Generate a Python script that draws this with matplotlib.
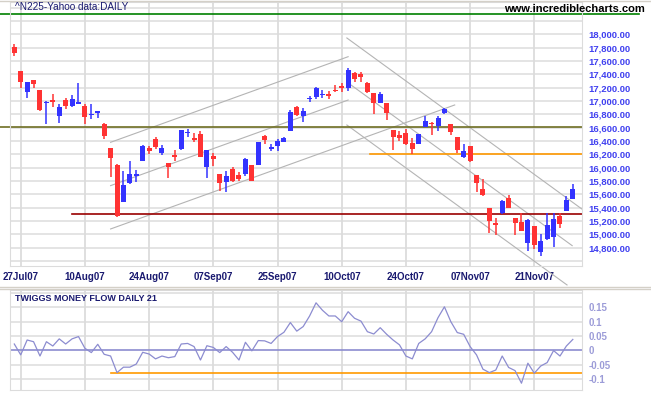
import matplotlib
matplotlib.use('Agg')
import matplotlib.pyplot as plt
import matplotlib.ticker as mticker
from matplotlib.lines import Line2D
import numpy as np

plt.rcParams['font.family'] = ['Liberation Sans', 'DejaVu Sans']

# 日K线数据，第0个交易日 = 27Jul07（第一根是前一天）
first_day = -1
opens = [17815, 17450, 17140, 17315, 17165, 16965, 17015, 16780, 17015, 16925,
         16960, 16925, 16790, 16825, 16655, 16300, 16040, 15490, 15765, 15880,
         16105, 16300, 16430, 16225, 16065, 16190, 16275, 16515, 16445, 16505,
         16015, 16175, 15905, 15790, 15980, 15890, 15905, 16040, 16040, 16475,
         16280, 16325, 16390, 16555, 16910, 16775, 17030, 17065, 17085, 17100,
         17165, 17230, 17200, 17415, 17405, 17275, 17120, 16975, 16970, 16565,
         16490, 16515, 16375, 16355, 16615, 16675, 16625, 16825, 16655, 16455,
         16165, 16325, 15890, 15680, 15390, 15165, 15315, 15550, 15240, 15185,
         14875, 15125, 14740, 14930, 14965, 15280, 15355, 15530]
highs = [17855, 17455, 17285, 17320, 17165, 17000, 17105, 16955, 17045, 17090,
         17275, 16955, 16955, 16850, 16675, 16300, 16050, 15950, 16100, 15965,
         16340, 16325, 16465, 16340, 16065, 16265, 16565, 16580, 16515, 16550,
         16265, 16215, 15905, 15950, 16005, 15940, 16150, 16040, 16385, 16490,
         16350, 16425, 16465, 16865, 16930, 16890, 17075, 17215, 17165, 17150,
         17240, 17265, 17495, 17430, 17430, 17285, 17120, 17130, 16970, 16565,
         16550, 16580, 16440, 16505, 16775, 16690, 16775, 16900, 16655, 16455,
         16355, 16325, 15890, 15830, 15400, 15240, 15515, 15590, 15240, 15315,
         15225, 15125, 15005, 15315, 15325, 15315, 15575, 15755]
lows = [17680, 17200, 17050, 17200, 16850, 16655, 16915, 16675, 16875, 16910,
        16960, 16660, 16725, 16750, 16430, 15865, 15265, 15490, 15755, 15790,
        16105, 16200, 16275, 16190, 15840, 16105, 16265, 16465, 16390, 16155,
        15850, 16025, 15655, 15630, 15790, 15805, 15880, 15800, 16040, 16350,
        16250, 16255, 16390, 16555, 16770, 16690, 16990, 17025, 17040, 17030,
        17140, 17140, 17150, 17290, 17290, 17115, 16800, 16965, 16715, 16265,
        16400, 16340, 16205, 16355, 16615, 16490, 16555, 16805, 16490, 16225,
        16150, 16090, 15640, 15575, 15015, 14990, 15300, 15400, 14990, 15055,
        14755, 14775, 14675, 14915, 14815, 15100, 15355, 15530]
closes = [17715, 17290, 17285, 17260, 16865, 16990, 16990, 16905, 16930, 17025,
          16968, 16765, 16805, 16850, 16475, 16150, 15280, 15740, 15905, 15905,
          16325, 16255, 16315, 16300, 16015, 16165, 16565, 16525, 16415, 16165,
          16265, 16135, 15775, 15875, 15805, 15830, 16130, 15805, 16385, 16415,
          16305, 16400, 16440, 16830, 16795, 16855, 17040, 17195, 17100, 17080,
          17150, 17190, 17465, 17335, 17365, 17140, 16965, 17105, 16825, 16455,
          16450, 16355, 16280, 16505, 16700, 16655, 16740, 16875, 16530, 16265,
          16255, 16100, 15775, 15590, 15205, 15140, 15505, 15400, 15165, 15055,
          15215, 14840, 14905, 15140, 15225, 15155, 15515, 15680]

# Twiggs Money Flow 21日
tmf = [0.022, -0.016, 0.036, 0.030, -0.020, 0.030, 0.015, 0.040, 0.022, 0.040,
       0.048, 0.007, -0.008, 0.021, -0.014, -0.020, -0.078, -0.059, -0.059, -0.048,
       -0.007, -0.013, -0.030, -0.020, -0.026, -0.022, 0.022, 0.024, 0.013, -0.034,
       0.016, 0.010, -0.008, 0.013, -0.007, -0.034, 0.028, -0.002, 0.034, 0.033,
       0.024, 0.048, 0.063, 0.097, 0.067, 0.083, 0.120, 0.166, 0.140, 0.120,
       0.120, 0.100, 0.135, 0.112, 0.102, 0.065, 0.057, 0.079, 0.056, 0.036,
       0.019, -0.020, -0.030, 0.024, 0.040, 0.065, 0.114, 0.152, 0.100, 0.062,
       0.056, 0.013, -0.016, -0.066, -0.078, -0.069, -0.020, -0.060, -0.071, -0.115,
       -0.045, -0.080, -0.055, -0.043, -0.001, -0.020, 0.015, 0.038]

tick_days = [0, 10, 20, 30, 40, 50, 60, 70, 80]
tick_labels = ['27Jul07', '10Aug07', '24Aug07', '07Sep07', '25Sep07',
               '10Oct07', '24Oct07', '07Nov07', '21Nov07']
price_grid = np.arange(14600, 18401, 200)
tmf_ticks = [0.15, 0.1, 0.05, 0, -0.05, -0.1]
tmf_tick_labels = ['0.15', '0.1', '0.05', '0', '-0.05', '-0.1']

# 水平支撑/阻力线: 价格, 起始交易日
green_level = 18310
olive_level = 16610
red_level, red_start = 15310, 8
orange_level, orange_start = 16210, 54.4
tmf_signal, tmf_signal_start = -0.08, 14

# 趋势通道 (起始日, 起始价, 结束日, 结束价)
trend_lines = [
    (14, 16380, 51, 17664),
    (14, 15730, 51, 17014),
    (14, 15080, 67.6, 16940),
    (50.8, 17945, 87.4, 15380),
    (50.8, 17285, 85.9, 14830),
    (50.8, 16640, 85.1, 14240),
]

W, H = 651, 395
grid_c = '#dcdcdc'
blue = '#3333ff'
red = '#ff3333'
navy = '#1a1a70'

fig = plt.figure(figsize=(W / 100, H / 100), dpi=100)
ax = fig.add_axes([10 / W, 1 - 266 / H, 572 / W, 264 / H])
ax2 = fig.add_axes([10 / W, 1 - 390 / H, 572 / W, 100 / H])

xmin, xmax = -1.67, 87.43
days = np.arange(first_day, first_day + len(closes))

# 上图: K线
ax.set_xlim(xmin, xmax)
ax.set_ylim(14524.5, 18484.5)
for y in price_grid:
    ax.axhline(y, color=grid_c, lw=1.1, zorder=0)
for d in tick_days:
    ax.axvline(d, color=grid_c, lw=1.3, zorder=0)
    ax2.axvline(d, color=grid_c, lw=1.3, zorder=0)

for d, o, h, l, c in zip(days, opens, highs, lows, closes):
    col = blue if c >= o else red
    ax.vlines(d, l, h, color=col, lw=1.1, zorder=3)
    ax.bar(d, max(abs(c - o), 20), bottom=min(o, c), width=0.78,
           color=col, zorder=4)

for x0, p0, x1, p1 in trend_lines:
    ax.plot([x0, x1], [p0, p1], color='#b4b4b4', lw=0.8, zorder=2, clip_on=False)

ax.axhline(green_level, xmin=-0.02, xmax=1.1, color='#008000', lw=1.2,
           zorder=2, clip_on=False)
ax.axhline(olive_level, xmin=-0.02, xmax=1.0, color='#6e6e22', lw=1.2,
           zorder=2, clip_on=False)
ax.plot([red_start, xmax], [red_level, red_level], color='#990000', lw=1.2, zorder=2)
ax.plot([orange_start, xmax], [orange_level, orange_level], color='#ff9900',
        lw=1.2, zorder=2)

ax.yaxis.tick_right()
ax.set_yticks(price_grid)
ax.yaxis.set_major_formatter(mticker.FuncFormatter(
    lambda v, _: f'{v:,.2f}' if 14800 <= v <= 18000 else ''))
ax.tick_params(axis='y', length=0, pad=4.5, labelsize=6.8, labelcolor='#4040f0')
for t in ax.get_yticklabels():
    t.set_fontweight('bold')
ax.set_xticks(tick_days, tick_labels)
ax.tick_params(axis='x', length=0, pad=4, labelsize=7, labelcolor=navy)
for t in ax.get_xticklabels():
    t.set_fontweight('bold')
for s in ax.spines.values():
    s.set_color(grid_c)

# 下图: TMF
ax2.set_xlim(xmin, xmax)
ax2.set_ylim(-0.1388, 0.2108)
for y in [-0.1, -0.05, 0.05, 0.1, 0.15, 0.2]:
    ax2.axhline(y, color=grid_c, lw=1.1, zorder=0)
ax2.axhline(0, color='#8c8cd0', lw=1.2, zorder=1)
ax2.plot([tmf_signal_start, xmax], [tmf_signal, tmf_signal], color='#ff9900',
         lw=1.2, zorder=1)
ax2.plot(days, tmf, color='#8c8cd0', lw=0.9, zorder=2)
ax2.yaxis.tick_right()
ax2.set_yticks(tmf_ticks, tmf_tick_labels)
ax2.tick_params(axis='y', length=0, pad=4.5, labelsize=7, labelcolor='#9c9cd8')
for t in ax2.get_yticklabels():
    t.set_fontweight('bold')
ax2.set_xticks([])
for s in ax2.spines.values():
    s.set_color(grid_c)
ax2.text(0.008, 0.96, 'TWIGGS MONEY FLOW DAILY 21', transform=ax2.transAxes,
         fontsize=6.5, fontweight='bold', color=navy, va='top')

# 标题和边框线
fig.text(15 / W, 1 - 7 / H, '^N225-Yahoo data:DAILY', fontsize=7.2,
         color=navy, va='center')
fig.text(645 / W, 1 - 9 / H, 'www.incrediblecharts.com', fontsize=8,
         fontweight='bold', color='black', ha='right', va='center')
for yy in [0.5, 287, 289]:
    fig.add_artist(Line2D([0, 1], [1 - yy / H, 1 - yy / H], color='#d4d0c8',
                          lw=1.0, transform=fig.transFigure))

plt.savefig('out.png', dpi=100)
